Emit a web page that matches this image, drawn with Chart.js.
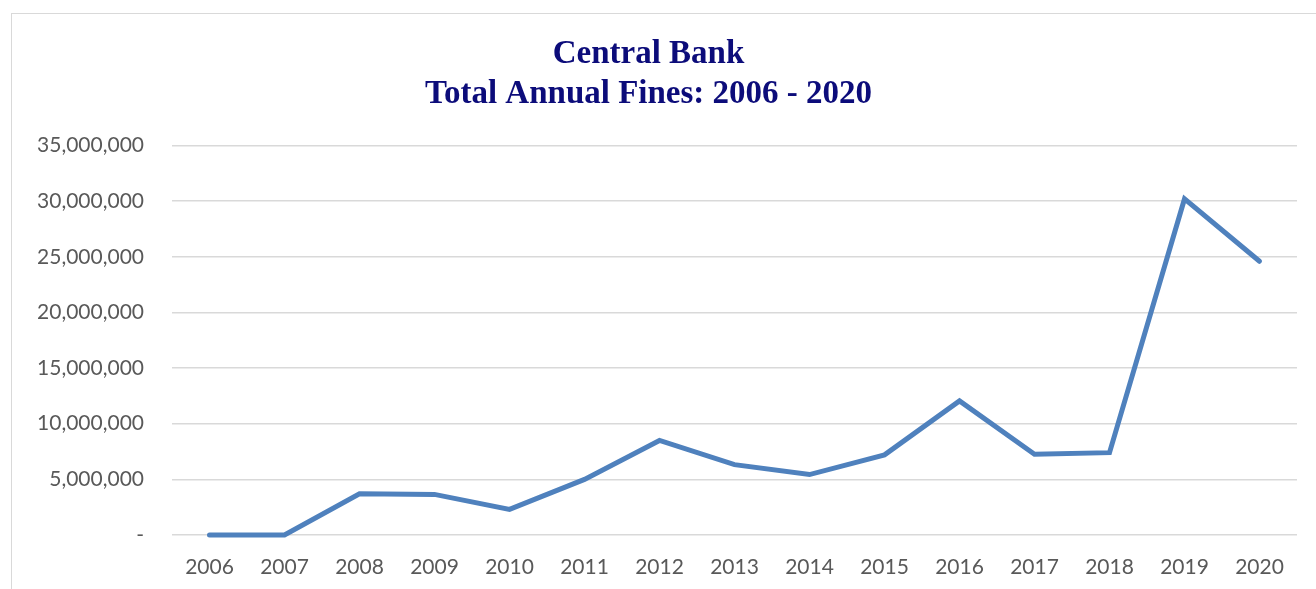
<!DOCTYPE html>
<html>
<head>
<meta charset="utf-8">
<script src="https://cdn.jsdelivr.net/npm/chart.js@4.4.1/dist/chart.umd.min.js"></script>
<style>
  html, body { margin: 0; padding: 0; background: #fff; }
  body { width: 1316px; height: 589px; position: relative; overflow: hidden; }
  /* cadre du graphique, comme dans Excel */
  #cadre {
    position: absolute; left: 11px; top: 13px;
    width: 1400px; height: 700px;
    border: 1.5px solid #d9d9d9;
  }
  #wrap { position: absolute; left: 0; top: 0; width: 1316px; height: 589px; }
</style>
</head>
<body>
<div id="cadre"></div>
<div id="wrap"><canvas id="grafico"></canvas></div>
<script>
// dados
const anos = ['2006', '2007', '2008', '2009', '2010', '2011', '2012', '2013',
              '2014', '2015', '2016', '2017', '2018', '2019', '2020'];
const multas = [0, 0, 3700000, 3650000, 2300000, 5000000, 8500000, 6320000,
                5430000, 7200000, 12050000, 7250000, 7400000, 30200000, 24600000];
const yTicks = [0, 5000000, 10000000, 15000000, 20000000, 25000000, 30000000, 35000000];
const titulo = ['Central Bank', 'Total Annual Fines: 2006 - 2020'];

const ctx = document.getElementById('grafico').getContext('2d');

new Chart(ctx, {
  type: 'line',
  data: {
    labels: anos,
    datasets: [{
      label: 'Total Annual Fines',
      data: multas,
      borderColor: '#4f81bd',
      borderWidth: 5,
      borderCapStyle: 'round',
      borderJoinStyle: 'miter',
      pointRadius: 0,
      pointHoverRadius: 0,
      tension: 0,
      fill: false,
      clip: false
    }]
  },
  options: {
    responsive: true,
    maintainAspectRatio: false,
    animation: false,
    layout: { padding: { top: 0, right: 19, bottom: 0, left: 0 } },
    plugins: {
      legend: { display: false },
      tooltip: { enabled: false },
      title: {
        display: true,
        text: titulo,
        color: '#0c0c7a',
        font: { family: "'Liberation Serif', serif", size: 33, weight: 'bold', lineHeight: 1.22 },
        padding: { top: 34, bottom: 31 }
      }
    },
    scales: {
      x: {
        offset: true,
        grid: { display: false, drawTicks: false },
        border: { display: false },
        ticks: {
          color: '#595959',
          font: { family: 'Lato', size: 21 },
          padding: 20,
          maxRotation: 0,
          autoSkip: false
        },
        afterFit: (scale) => { scale.height = 54; }
      },
      y: {
        min: 0,
        max: 35000000,
        afterBuildTicks: (scale) => { scale.ticks = yTicks.map(v => ({ value: v })); },
        grid: { color: '#d9d9d9', lineWidth: 1.5, drawTicks: false },
        border: { display: false },
        ticks: {
          color: '#595959',
          font: { family: 'Lato', size: 21 },
          padding: 28,
          callback: (v) => v === 0 ? '-' : Number(v).toLocaleString('en-US')
        },
        afterFit: (scale) => { scale.width = 172; }
      }
    }
  }
});
</script>
</body>
</html>
